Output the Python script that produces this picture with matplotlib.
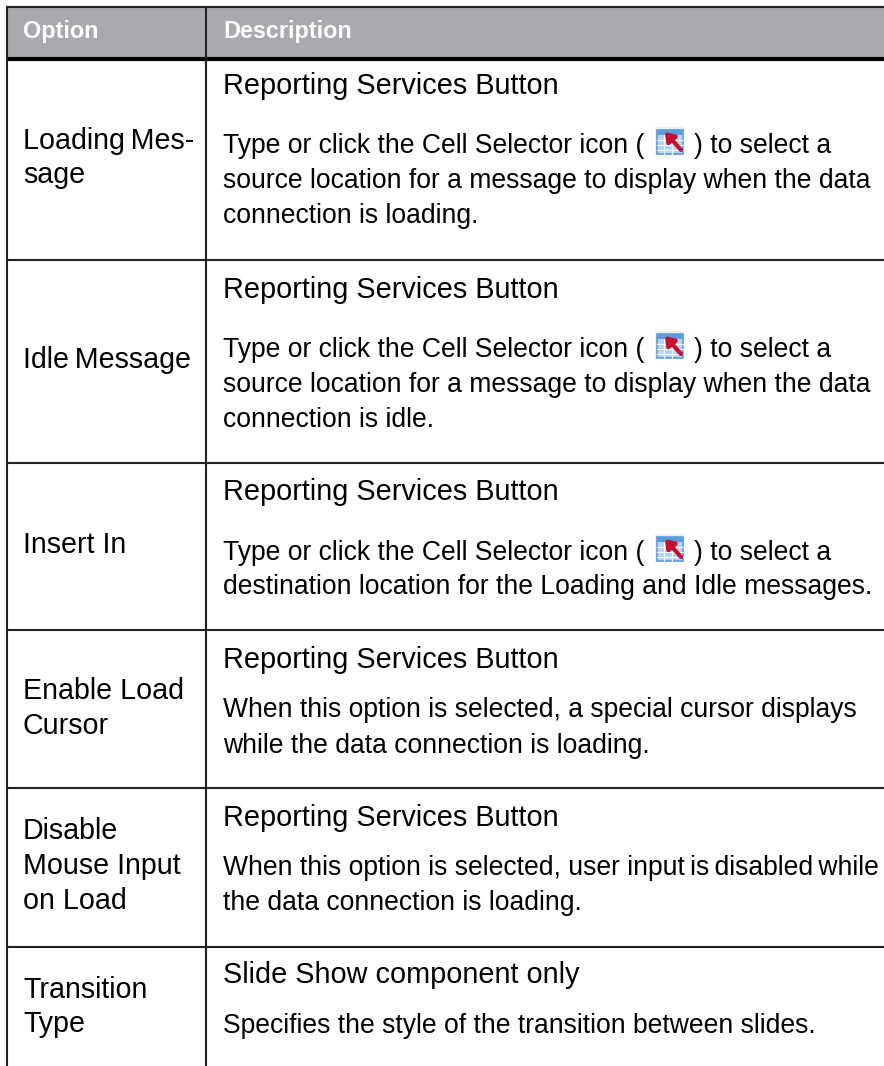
import matplotlib
matplotlib.use('Agg')
import matplotlib.pyplot as plt
from matplotlib.patches import Rectangle

plt.rcParams['font.family']=['Liberation Sans','DejaVu Sans']

headers=['Option','Description']
options=[['Loading\u2009Mes-','sage'],['Idle\u2009Message'],['Insert In'],['Enable Load','Cursor'],['Disable','Mouse Input','on Load'],['Transition','Type']]
scopes=['Reporting Services Button','Reporting Services Button','Reporting Services Button','Reporting Services Button','Reporting Services Button','Slide Show component only']
icon_left='Type or click the Cell Selector icon ('
icon_right=') to select a'
descriptions=[
	['source location for a message to display when the data','connection is loading.'],
	['source location for a message to display when the data','connection is idle.'],
	['destination location for the Loading and Idle messages.'],
	['When this option is selected, a special cursor displays','while the data connection is loading.'],
	['When this option is selected, user input\u2009is\u2009disabled\u2009while','the data connection is loading.'],
	['Specifies the style of the transition between slides.'],
]

# layout, pixels from top left, text y are baselines
row_lines=[260,463,630,788,947]
option_y=[[149,183],[368],[553],[699,734],[839,874,909],[998,1032]]
scope_y=[94,298,500,668,826,983]
icon_y=[153,357,560]
desc_y=[[188,223],[392,427],[594],[717,753],[875,910],[1033]]

fig=plt.figure(figsize=(8.84,10.66),dpi=100)
ax=fig.add_axes([0,0,1,1])
ax.set_xlim(0,884)
ax.set_ylim(1066,0)
ax.axis('off')

# header band and rules
ax.add_patch(Rectangle((6,7),878,51,fc='#a7a9ac',ec='none'))
ax.plot([6,884],[7,7],color='#222222',lw=1.5,solid_capstyle='butt')
ax.plot([6,884],[59,59],color='black',lw=3,solid_capstyle='butt')
for x in [7,206]:
	ax.plot([x,x],[6,1066],color='#222222',lw=1.5,solid_capstyle='butt')
for y in row_lines:
	ax.plot([6,884],[y,y],color='#222222',lw=1.5,solid_capstyle='butt')

ax.text(23,38,headers[0],fontsize=16.8,fontweight='bold',color='white',va='baseline')
ax.text(223,38,headers[1],fontsize=16.8,fontweight='bold',color='white',va='baseline')

for i in range(len(options)):
	for y,line in zip(option_y[i],options[i]):
		ax.text(23,y,line,fontsize=20.6,color='black',va='baseline')
	ax.text(223,scope_y[i],scopes[i],fontsize=20.8,color='black',va='baseline')
	for y,line in zip(desc_y[i],descriptions[i]):
		ax.text(223,y,line,fontsize=19.1,color='black',va='baseline')

# cell selector icon
for y in icon_y:
	ax.text(223,y,icon_left,fontsize=19.1,color='black',va='baseline')
	ax.text(694,y,icon_right,fontsize=19.1,color='black',va='baseline')
	ax.add_patch(Rectangle((655,y-26),29,28,fc='#f0f0f0',ec='none'))
	ax.add_patch(Rectangle((657,y-23),26,24,fc='#b5d5f5',ec='#5b9be0',lw=1.2))
	ax.add_patch(Rectangle((657,y-23),26,5,fc='#5b9be0',ec='none'))
	for gy in [y-13,y-8,y-3]:
		ax.plot([657,683],[gy,gy],color='white',lw=0.8)
	for gx in [664,672]:
		ax.plot([gx,gx],[y-18,y+1],color='white',lw=0.8)
	ax.annotate('',xy=(665,y-21),xytext=(681,y-3),arrowprops=dict(arrowstyle='-|>,head_width=0.35,head_length=0.5',color='#c8102e',lw=3,shrinkA=0,shrinkB=0))

plt.savefig('out.png',dpi=100)
